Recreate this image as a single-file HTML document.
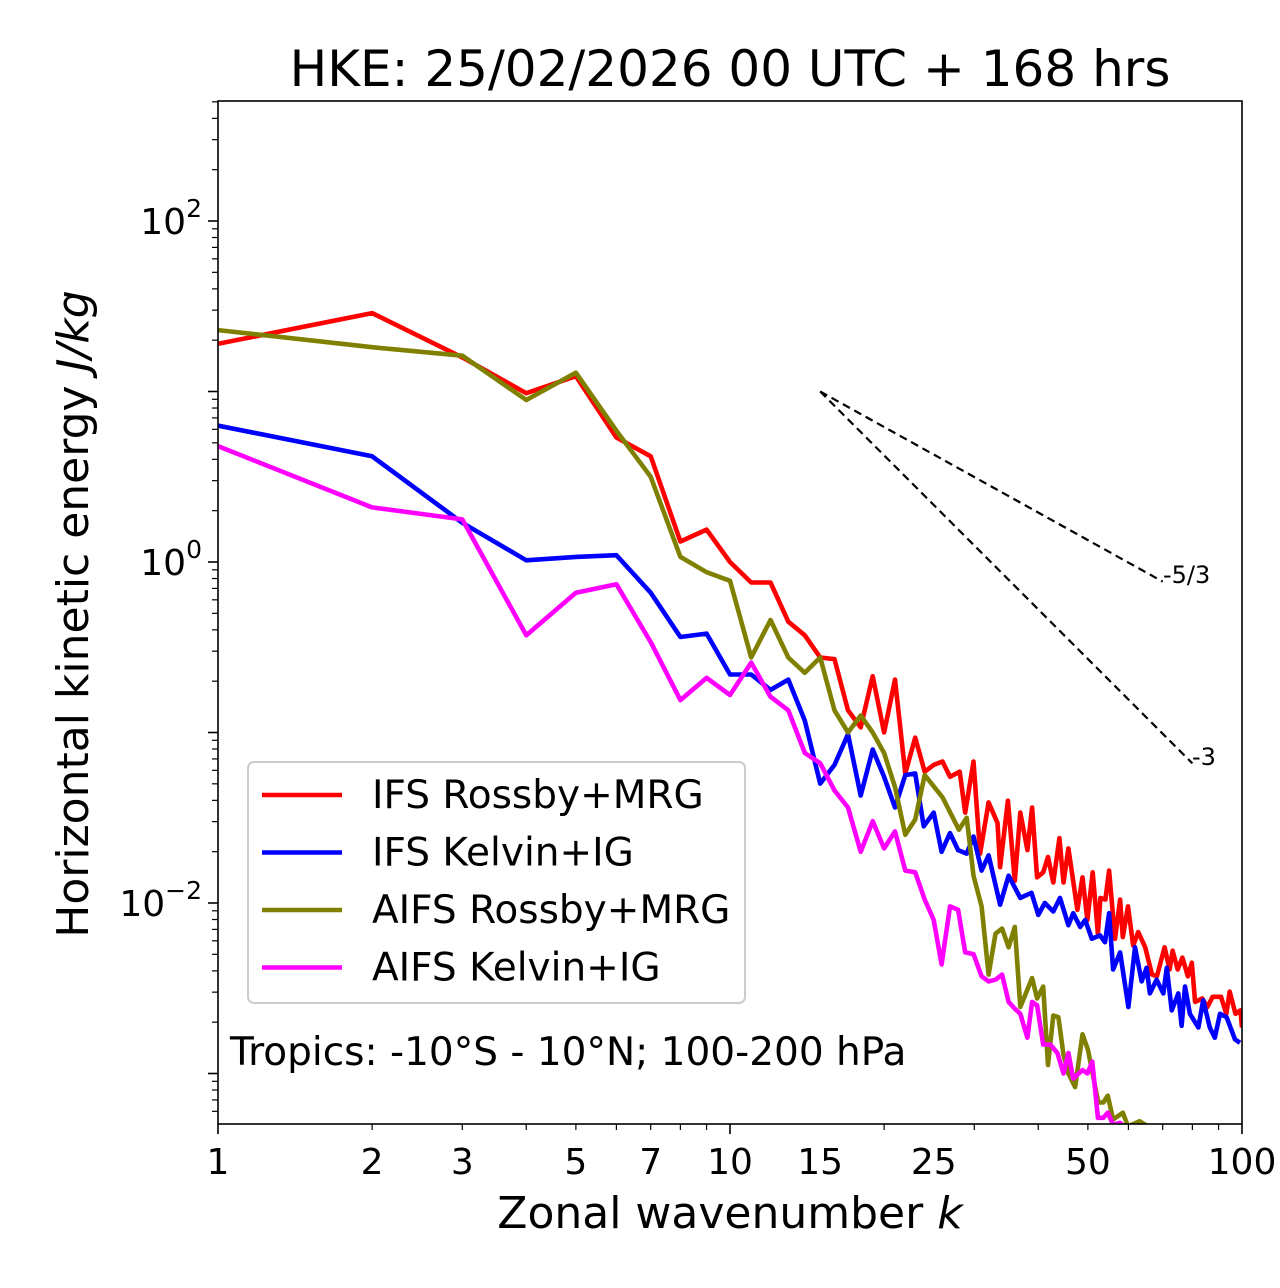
<!DOCTYPE html>
<html><head><meta charset="utf-8"><style>
html,body{margin:0;padding:0;background:#fff;}
svg{display:block;font-family:"DejaVu Sans","Liberation Sans",sans-serif;}
</style></head><body>
<svg id="chart" width="1280" height="1288" viewBox="0 0 1280 1288" xmlns="http://www.w3.org/2000/svg">
<defs><clipPath id="plotclip"><rect x="218" y="101" width="1024" height="1023"/></clipPath></defs>
<rect width="1280" height="1288" fill="#fff"/>
<text x="730" y="86" font-size="50" text-anchor="middle">HKE: 25/02/2026 00 UTC + 168 hrs</text>
<g id="marks" clip-path="url(#plotclip)"></g>
<g id="axes"></g>
<rect x="218" y="101" width="1024" height="1023" fill="none" stroke="#000" stroke-width="1.6"/>
<text x="730" y="1228" font-size="44" text-anchor="middle">Zonal wavenumber <tspan font-style="italic">k</tspan></text>
<text transform="translate(88,614) rotate(-90)" font-size="44" text-anchor="middle">Horizontal kinetic energy <tspan font-style="italic">J/kg</tspan></text>
<g>
<rect x="248" y="762" width="497" height="241" rx="6" fill="#fff" fill-opacity="0.8" stroke="#ccc" stroke-width="2"/>
<g id="legend-items"></g>
</g>
<text x="230" y="1065" font-size="39">Tropics: -10°S - 10°N; 100-200 hPa</text>
<line id="s53" stroke="#000" stroke-width="2.2" stroke-dasharray="8,5"/>
<line id="s3" stroke="#000" stroke-width="2.2" stroke-dasharray="8,5"/>
<text x="1163" y="583" font-size="24">-5/3</text>
<text x="1192" y="765" font-size="24">-3</text>
</svg>
<script>
// Data: wavenumber k and log10 of energy (J/kg)
const ifsRossbyK=[1,2,3,4,5,6,7,8,9,10,11,12,13,14,15,16,17,18,19,20,21,22,23,24,25,26,26.9,28.1,28.8,29.9,30.8,32.0,33.3,33.7,34.9,36.0,36.9,38.1,38.9,39.8,40.9,41.8,42.8,44.0,44.8,45.8,47.7,48.8,49.9,51.1,52.3,52.9,54.1,55.0,56.5,57.8,58.5,59.9,61.3,62.7,64.7,66.7,68.2,70.6,72.2,73.2,74.9,76.5,78.4,79.8,81.0,83.6,85.6,87.6,91.0,93.2,94.6,97.1,99.3,100];
const ifsRossbyLogE=[1.28,1.46,1.20,0.99,1.09,0.73,0.62,0.12,0.19,0.0,-0.12,-0.12,-0.35,-0.43,-0.56,-0.57,-0.87,-0.97,-0.67,-1.00,-0.69,-1.24,-1.03,-1.23,-1.19,-1.17,-1.26,-1.23,-1.47,-1.17,-1.71,-1.41,-1.53,-1.79,-1.40,-1.87,-1.47,-1.69,-1.44,-1.85,-1.82,-1.73,-1.88,-1.62,-1.88,-1.68,-2.04,-1.85,-2.10,-1.82,-2.18,-1.97,-1.98,-1.81,-2.21,-1.98,-2.20,-2.02,-2.25,-2.17,-2.26,-2.42,-2.43,-2.26,-2.39,-2.28,-2.39,-2.32,-2.43,-2.35,-2.58,-2.56,-2.61,-2.55,-2.55,-2.65,-2.52,-2.65,-2.63,-2.73];
const ifsKelvinK=[1,2,3,4,5,6,7,8,9,10,11,12,13,14,15,16,17,18,19,20,21,22,23,23.9,25,25.9,26.9,27.9,29,29.9,31,32,33.7,35,36.9,38.8,40,41.2,42.8,44.1,45.8,46.8,48.3,49.4,50.9,52.8,54,55,56,57.8,60,61.8,63.7,65.1,66.1,68.1,70.2,71.3,72.9,75.1,76.2,77.4,79.1,82.2,84,86.5,88.5,90.6,93.3,96.9,99.1];
const ifsKelvinLogE=[0.80,0.62,0.23,0.01,0.03,0.04,-0.18,-0.44,-0.42,-0.66,-0.66,-0.75,-0.69,-0.93,-1.30,-1.19,-1.01,-1.37,-1.10,-1.26,-1.44,-1.25,-1.24,-1.55,-1.47,-1.70,-1.59,-1.69,-1.71,-1.61,-1.81,-1.72,-2.01,-1.84,-1.97,-1.94,-2.07,-2.00,-2.05,-1.97,-2.13,-2.06,-2.14,-2.10,-2.21,-2.19,-2.23,-2.06,-2.39,-2.29,-2.61,-2.26,-2.46,-2.38,-2.53,-2.45,-2.53,-2.38,-2.63,-2.53,-2.72,-2.49,-2.65,-2.73,-2.57,-2.73,-2.79,-2.65,-2.67,-2.80,-2.82];
const aifsRossbyK=[1,2,3,4,5,6,7,8,9,10,11,12,13,14,15,16,17,18,19,20,21,22,23,24,26,28,29,29.9,31,32,33,34,35,36,36.9,38.9,39.8,40.9,41.8,42.8,43.8,44.8,45.8,47.2,48.8,50,52.4,53.6,54.7,56,58.5,59.9,63.1,65.5];
const aifsRossbyLogE=[1.36,1.26,1.21,0.95,1.11,0.77,0.50,0.03,-0.06,-0.11,-0.56,-0.34,-0.56,-0.65,-0.56,-0.87,-1.00,-0.90,-1.00,-1.12,-1.32,-1.60,-1.51,-1.25,-1.38,-1.57,-1.50,-1.84,-2.02,-2.42,-2.18,-2.15,-2.26,-2.14,-2.61,-2.44,-2.56,-2.49,-2.95,-2.66,-2.67,-2.89,-3.00,-3.08,-2.77,-2.86,-3.17,-3.17,-3.13,-3.27,-3.23,-3.31,-3.28,-3.31];
const aifsKelvinK=[1,2,3,4,5,6,7,8,9,10,11,12,13,14,15,16,17,18,19,20,21,22,23,24,25,25.9,26.9,27.9,28.8,29.9,31,32,33,34,35,36,36.9,38.1,38.9,39.8,40.9,42.2,43.6,44.8,45.8,46.8,48.8,49.9,51,52.3,53.6,54.7,56,57.8,59.6];
const aifsKelvinLogE=[0.68,0.32,0.25,-0.43,-0.18,-0.13,-0.47,-0.81,-0.68,-0.78,-0.59,-0.79,-0.87,-1.12,-1.18,-1.34,-1.44,-1.70,-1.52,-1.68,-1.58,-1.81,-1.82,-1.98,-2.10,-2.36,-2.02,-2.04,-2.29,-2.30,-2.43,-2.46,-2.45,-2.42,-2.58,-2.62,-2.65,-2.79,-2.58,-2.60,-2.83,-2.83,-2.88,-3.00,-2.88,-3.03,-2.98,-3.00,-2.93,-3.26,-3.26,-3.23,-3.30,-3.29,-3.33];
const seriesNames=["IFS Rossby+MRG","IFS Kelvin+IG","AIFS Rossby+MRG","AIFS Kelvin+IG"];
const seriesColors=["#ff0000","#0000ff","#808000","#ff00ff"];
const xTickLabels=[1,2,3,5,7,10,15,25,50,100];
const yDecades=[-4,-3,-2,-1,0,1,2,3];
const yLabelDecades=[2,0,-2];
const slopeAnchorK=15, slopeAnchorE=10, slopeEnd53=70, slopeEnd3=80;

const NS="http://www.w3.org/2000/svg";
function xS(k){return 218+512*Math.log10(k);}
function yL(l){return 562-170.5*l;}
function mk(tag,attrs,parent){const e=document.createElementNS(NS,tag);for(const a in attrs)e.setAttribute(a,attrs[a]);parent.appendChild(e);return e;}
const marks=document.getElementById('marks'), axes=document.getElementById('axes'), leg=document.getElementById('legend-items');
const allK=[ifsRossbyK,ifsKelvinK,aifsRossbyK,aifsKelvinK], allL=[ifsRossbyLogE,ifsKelvinLogE,aifsRossbyLogE,aifsKelvinLogE];
const lineNames=['ifs-rossby-line','ifs-kelvin-line','aifs-rossby-line','aifs-kelvin-line'];
for(let s=0;s<4;s++){
  const pts=allK[s].map((k,i)=>xS(k).toFixed(1)+','+yL(allL[s][i]).toFixed(1)).join(' ');
  const pl=mk('polyline',{points:pts,fill:'none',stroke:seriesColors[s],'stroke-width':4.6,'stroke-linejoin':'round'},marks);
  
  
  const yy=795+s*57.5;
  const ll=mk('line',{x1:262,x2:342,y1:yy,y2:yy,stroke:seriesColors[s],'stroke-width':4.6},leg);
  
  
  const tt=mk('text',{x:372,y:yy+13,'font-size':39},leg);
  tt.textContent=seriesNames[s];
  
  
}
const a=Math.log10(slopeAnchorE);
const s53=document.getElementById('s53'), s3=document.getElementById('s3');
s53.setAttribute('x1',xS(slopeAnchorK));s53.setAttribute('y1',yL(a));
s53.setAttribute('x2',xS(slopeEnd53));s53.setAttribute('y2',yL(a-5/3*Math.log10(slopeEnd53/slopeAnchorK)));
s3.setAttribute('x1',xS(slopeAnchorK));s3.setAttribute('y1',yL(a));
s3.setAttribute('x2',xS(slopeEnd3));s3.setAttribute('y2',yL(a-3*Math.log10(slopeEnd3/slopeAnchorK)));
for(let d=0;d<2;d++)for(let m=1;m<10;m++){
  const k=m*Math.pow(10,d);const x=xS(k);const major=(m===1);
  const t=mk('line',{x1:x,x2:x,y1:1124,y2:1124+(major?10:6),stroke:'#000','stroke-width':major?1.6:1.2},axes);
  
  
}
{const t=mk('line',{x1:xS(100),x2:xS(100),y1:1124,y2:1134,stroke:'#000','stroke-width':1.6},axes);
 
 }
xTickLabels.forEach(k=>{
  const t=mk('text',{x:xS(k),y:1174,'font-size':36,'text-anchor':'middle'},axes);
  t.textContent=k;
  
  
});
yDecades.forEach(d=>{
  for(let m=1;m<10;m++){
    const y=yL(d+Math.log10(m));
    if(y<101||y>1124)continue;
    const major=(m===1);
    const t=mk('line',{x1:218-(major?10:6),x2:218,y1:y,y2:y,stroke:'#000','stroke-width':major?1.6:1.2},axes);
    
    
  }
});
yLabelDecades.forEach(d=>{
  const y=yL(d);
  const t=mk('text',{x:202,y:y+13,'font-size':36,'text-anchor':'end'},axes);
  
  
  const b=mk('tspan',{},t);b.textContent='10';
  const sp=mk('tspan',{dy:-17,'font-size':25},t);sp.textContent=(d<0?'\u2212'+(-d):String(d));
});
</script>
</body></html>
